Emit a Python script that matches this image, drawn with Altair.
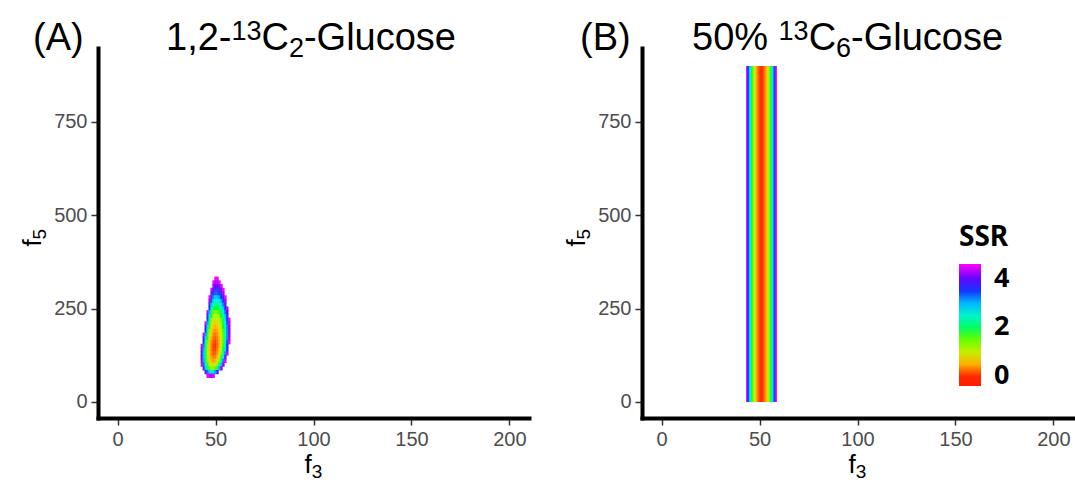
import altair as alt
import pandas as pd

# ---------------- data ----------------
# Panel A: SSR surface. Each row is one f5 level; values start at a_f3_start and run
# over consecutive integer f3 values. Cells outside the listed ones are blank (SSR above scale).
a_f5 = [330, 320, 310, 300, 290, 280, 270, 260, 250, 240, 230, 220, 210, 200,
        190, 180, 170, 160, 150, 140, 130, 120, 110, 100, 90, 80, 70]
a_f3_start = [50, 49, 49, 48, 48, 47, 47, 47, 47, 46, 46, 46, 45, 45,
              45, 44, 44, 44, 43, 43, 43, 43, 43, 43, 44, 45, 46]
a_ssr = [
    [4.53, 4.53],
    [4.49, 4.32, 4.32, 4.45],
    [4.23, 4.03, 4.02, 4.16, 4.45],
    [4.41, 3.92, 3.68, 3.67, 3.82, 4.13, 4.60],
    [4.08, 3.57, 3.32, 3.33, 3.49, 3.80, 4.26],
    [4.60, 3.73, 3.16, 2.91, 2.94, 3.11, 3.44, 3.91, 4.53],
    [4.26, 3.36, 2.77, 2.51, 2.54, 2.72, 3.07, 3.56, 4.22],
    [3.87, 2.94, 2.35, 2.11, 2.15, 2.35, 2.70, 3.21, 3.87],
    [3.46, 2.54, 1.97, 1.75, 1.81, 2.02, 2.37, 2.88, 3.53, 4.33],
    [4.30, 3.03, 2.13, 1.58, 1.40, 1.47, 1.69, 2.06, 2.57, 3.24, 4.04],
    [3.87, 2.66, 1.79, 1.27, 1.10, 1.17, 1.39, 1.76, 2.28, 2.94, 3.75],
    [3.43, 2.28, 1.46, 0.99, 0.85, 0.94, 1.17, 1.54, 2.07, 2.73, 3.54, 4.50],
    [4.44, 3.05, 1.98, 1.22, 0.78, 0.65, 0.74, 0.97, 1.34, 1.86, 2.53, 3.34, 4.29],
    [3.99, 2.69, 1.69, 0.99, 0.60, 0.50, 0.60, 0.84, 1.23, 1.75, 2.42, 3.23, 4.18],
    [3.47, 2.31, 1.41, 0.79, 0.44, 0.35, 0.46, 0.71, 1.10, 1.65, 2.34, 3.18, 4.16],
    [4.45, 3.10, 2.00, 1.17, 0.60, 0.29, 0.22, 0.35, 0.61, 1.03, 1.59, 2.30, 3.15, 4.16],
    [3.91, 2.70, 1.72, 0.97, 0.46, 0.18, 0.12, 0.25, 0.53, 0.97, 1.55, 2.30, 3.20, 4.25],
    [3.53, 2.40, 1.49, 0.80, 0.33, 0.09, 0.06, 0.21, 0.52, 0.99, 1.62, 2.41, 3.36, 4.48],
    [4.46, 3.21, 2.17, 1.33, 0.69, 0.26, 0.04, 0.01, 0.17, 0.50, 1.00, 1.67, 2.52, 3.54],
    [4.21, 3.02, 2.03, 1.24, 0.65, 0.25, 0.05, 0.05, 0.23, 0.60, 1.14, 1.87, 2.77, 3.86],
    [4.09, 2.94, 1.98, 1.23, 0.66, 0.29, 0.11, 0.14, 0.35, 0.76, 1.36, 2.16, 3.15, 4.34],
    [4.09, 2.96, 2.02, 1.28, 0.74, 0.39, 0.23, 0.27, 0.53, 1.00, 1.68, 2.58, 3.69],
    [4.21, 3.07, 2.12, 1.39, 0.85, 0.52, 0.40, 0.49, 0.82, 1.38, 2.17, 3.20, 4.46],
    [4.47, 3.32, 2.38, 1.65, 1.14, 0.84, 0.75, 0.91, 1.33, 2.02, 2.97, 4.18],
    [3.88, 2.88, 2.13, 1.61, 1.34, 1.32, 1.59, 2.16, 3.03, 4.19],
    [3.95, 3.24, 2.79, 2.61, 2.70, 3.10, 3.81],
    [4.55, 4.36, 4.30, 4.40],
]

# Panel B: SSR depends on f3 only; band covers f5 from 0 to 900
b_f3 = [43.5, 44.0, 44.5, 45.0, 45.5, 46.0, 46.5, 47.0, 47.5, 48.0,
        48.5, 49.0, 49.5, 50.0, 50.5, 51.0, 51.5, 52.0, 52.5, 53.0,
        53.5, 54.0, 54.5, 55.0, 55.5, 56.0, 56.5, 57.0, 57.5, 58.0, 58.5]
b_ssr = [4.50, 3.95, 3.40, 2.90, 2.45, 2.02, 1.64, 1.30, 0.99, 0.72,
         0.50, 0.31, 0.17, 0.07, 0.02, 0.00, 0.02, 0.08, 0.18, 0.32,
         0.50, 0.72, 0.98, 1.28, 1.62, 2.00, 2.42, 2.88, 3.38, 3.92, 4.50]
b_f5_span = [0, 900]

# colour bar: runs a little below 0 (as in the reference bar) up to about 4.6
ssr_stops = [-0.4, 0, 0.575, 1.15, 1.725, 2.3, 2.875, 3.45, 4.025, 4.6]
ssr_colors = ["#FF1E00", "#FF2A00", "#FFC000", "#A1FF00", "#09FF00", "#00FF95",
              "#00D0FF", "#0037FF", "#6200FF", "#FF00FF"]
legend_ticks = [0, 2, 4]
x_ticks = [0, 50, 100, 150, 200]
y_ticks = [0, 250, 500, 750]
x_domain = [-10, 210]
y_domain = [-43, 948]

# cell sizes (grid steps) and a hair of overlap so no seams show between cells
A_DX, A_DY = 1.0, 10.0
B_DX = 0.5
OV_X, OV_Y = 0.12, 0.8

rows = []
for f5, s, vals in zip(a_f5, a_f3_start, a_ssr):
    for i, v in enumerate(vals):
        f3 = s + i
        rows.append({"f3_lo": f3 - A_DX / 2 - OV_X, "f3_hi": f3 + A_DX / 2 + OV_X,
                     "f5_lo": f5 - A_DY / 2 - OV_Y, "f5_hi": f5 + A_DY / 2 + OV_Y,
                     "ssr": v})
df_a = pd.DataFrame(rows)

df_b = pd.DataFrame({
    "f3_lo": [f - B_DX / 2 - OV_X for f in b_f3],
    "f3_hi": [f + B_DX / 2 + OV_X for f in b_f3],
    "f5_lo": [b_f5_span[0]] * len(b_f3),
    "f5_hi": [b_f5_span[1]] * len(b_f3),
    "ssr": b_ssr,
})

W, H = 431, 370
FONT = "Liberation Sans"

# Arial/Liberation advance widths (per 1000 em) to place title pieces side by side
ADV = {'1': 556, '2': 556, '3': 556, '5': 556, '6': 556, '0': 556, ',': 278,
       '-': 333, 'C': 722, 'G': 778, 'l': 222, 'u': 556, 'c': 500, 'o': 556,
       's': 500, 'e': 556, '%': 889, ' ': 278, 'f': 278}


def tw(s, fs):
    return sum(ADV[c] for c in s) / 1000 * fs


axis_style = dict(domainColor="black", domainWidth=4, domainCap="square",
                  tickColor="#333333", tickWidth=1.5, tickSize=7,
                  labelColor="#4D4D4D", labelFontSize=20, labelFont=FONT,
                  labelPadding=4, grid=False, title=None)

color_scale = alt.Scale(domain=ssr_stops, range=ssr_colors, clamp=True)


def txt(s, x, y, fs, align="left", angle=None):
    kw = dict(font=FONT, fontSize=fs, align=align, baseline="alphabetic", color="black")
    if angle is not None:
        kw["angle"] = angle
    return alt.Chart(pd.DataFrame({"t": [s]})).mark_text(**kw).encode(
        text="t:N", x=alt.value(x), y=alt.value(y))


def rich_title(pieces, x0, base, fs, small):
    layers = []
    x = x0
    for s, kind in pieces:
        if kind == "sup":
            layers.append(txt(s, x, base - 10, small))
            x += tw(s, small)
        elif kind == "sub":
            layers.append(txt(s, x, base + 7, small))
            x += tw(s, small)
        else:
            layers.append(txt(s, x, base, fs))
            x += tw(s, fs)
    return layers


def panel(df, tag, tag_x, pieces, title_x, legend):
    rect = alt.Chart(df).mark_rect(strokeWidth=0).encode(
        x=alt.X("f3_lo:Q", scale=alt.Scale(domain=x_domain, nice=False, zero=False),
                axis=alt.Axis(values=x_ticks, **axis_style)),
        x2="f3_hi:Q",
        y=alt.Y("f5_lo:Q", scale=alt.Scale(domain=y_domain, nice=False, zero=False),
                axis=alt.Axis(values=y_ticks, **axis_style)),
        y2="f5_hi:Q",
        color=alt.Color("ssr:Q", scale=color_scale, legend=legend),
    )
    layers = [rect, txt(tag, tag_x, 2, 38)]
    layers += rich_title(pieces, title_x, 2, 38, 27)
    # x axis title f3
    fx = W / 2 - (tw("f", 26) + tw("3", 19)) / 2
    layers.append(txt("f", fx, H + 55, 26))
    layers.append(txt("3", fx + tw("f", 26), H + 60, 19))
    # y axis title f5 (rotated)
    cy = H / 2 + 10
    layers.append(txt("f", -57, cy, 26, align="center", angle=270))
    layers.append(txt("5", -52, cy - tw("f", 26) / 2 - tw("5", 19) / 2, 19,
                      align="center", angle=270))
    return alt.layer(*layers).properties(width=W, height=H)


legend_b = alt.Legend(type="gradient", orient="none", legendX=317, legendY=176,
                      title="SSR", values=legend_ticks, direction="vertical",
                      gradientLength=122, gradientThickness=22,
                      gradientStrokeWidth=0,
                      titleFont="Noto Sans", titleFontSize=28, titleFontWeight="bold",
                      titleColor="black", titlePadding=12,
                      labelFont="Noto Sans", labelFontSize=27, labelFontWeight="bold",
                      labelColor="black", labelOffset=13, labelBaseline="middle")

title_a = [("1,2-", "main"), ("13", "sup"), ("C", "main"), ("2", "sub"), ("-Glucose", "main")]
title_b = [("50% ", "main"), ("13", "sup"), ("C", "main"), ("6", "sub"), ("-Glucose", "main")]

pa = panel(df_a, "(A)", -65, title_a, 68, None)
pb = panel(df_b, "(B)", -62, title_b, 50, legend_b)

chart = alt.hconcat(pa, pb, spacing=35).resolve_legend(
    color="independent"
).properties(
    padding={"left": 20, "top": 18, "right": 2, "bottom": 0},
    background="white",
).configure_view(stroke=None)

chart.save("out.html", embed_options={"renderer": "svg", "actions": False})
